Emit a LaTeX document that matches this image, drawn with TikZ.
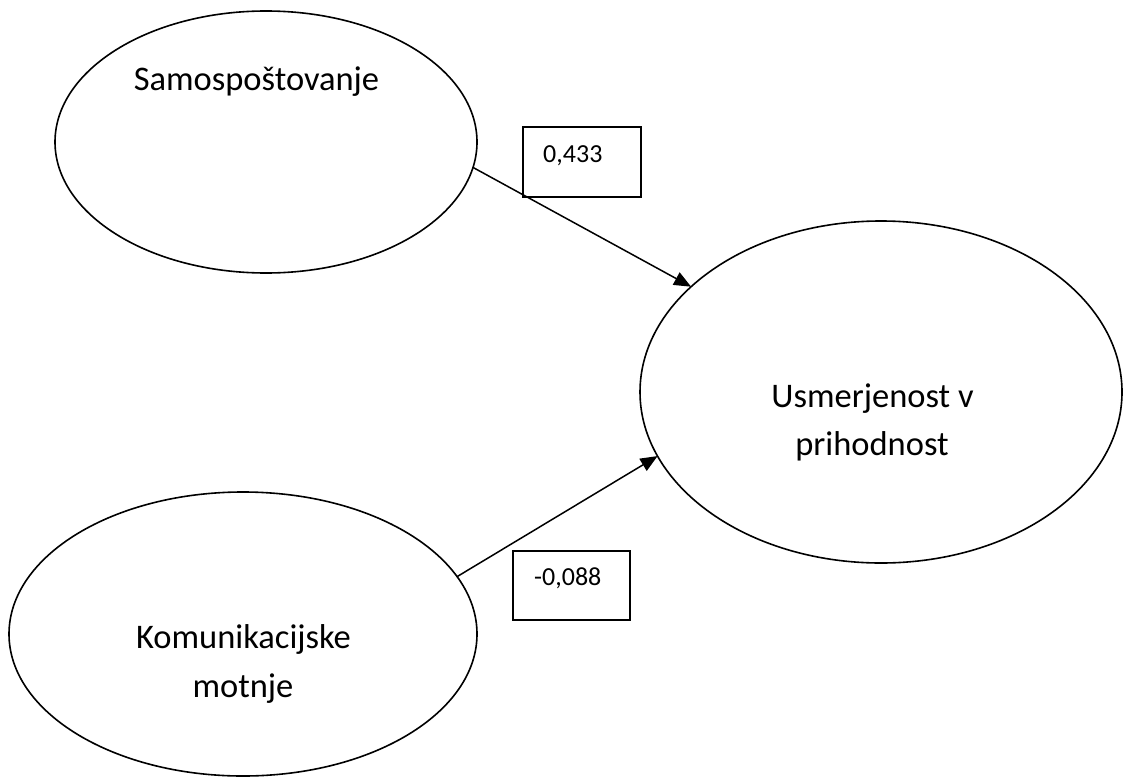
\documentclass[tikz,border=0pt]{standalone}
\usepackage{fontspec}
\setmainfont{Carlito}
\usetikzlibrary{arrows.meta,shapes.geometric}
\begin{document}
\begin{tikzpicture}[x=1pt,y=-1pt,
  latent/.style={draw, ellipse, line width=1.6pt, inner sep=0pt, outer sep=0pt},
  coef/.style={draw, rectangle, line width=1.7pt, inner sep=0pt},
  bigtext/.style={anchor=base, inner sep=0pt, font=\fontsize{34.5}{48}\selectfont},
  smalltext/.style={anchor=base west, inner sep=0pt, font=\fontsize{26}{31}\selectfont},
  path/.style={line width=1.5pt, -{Triangle[length=17pt,width=14pt]}}]
  \useasboundingbox (0,0) rectangle (1126,776);

  % constructs
  \node[latent, minimum width=422pt, minimum height=262pt] (e1) at (266,142) {};
  \node[latent, minimum width=482pt, minimum height=342pt] (e2) at (881,392) {};
  \node[latent, minimum width=468pt, minimum height=284pt] (e3) at (243,634) {};

  \node[bigtext] (t1) at (256.5,90) {Samospoštovanje};
  \node[bigtext] (t2a) at (872.5,407) {Usmerjenost v};
  \node[bigtext] (t2b) at (872,455) {prihodnost};
  \node[bigtext] (t3a) at (243.5,648) {Komunikacijske};
  \node[bigtext] (t3b) at (243,697) {motnje};

  % path coefficients
  \node[coef, minimum width=118pt, minimum height=70pt] (b1) at (582,162) {};
  \node[smalltext] (c1) at (543,162) {0,433};
  \node[coef, minimum width=117pt, minimum height=69pt] (b2) at (571.5,585.5) {};
  \node[smalltext] (c2) at (534,585) {-0,088};

  % structural paths
  \draw[path] (e1.-7.3) -- (e2.151);
  \draw[path] (e3.15) -- (e2.196);
\end{tikzpicture}
\end{document}
